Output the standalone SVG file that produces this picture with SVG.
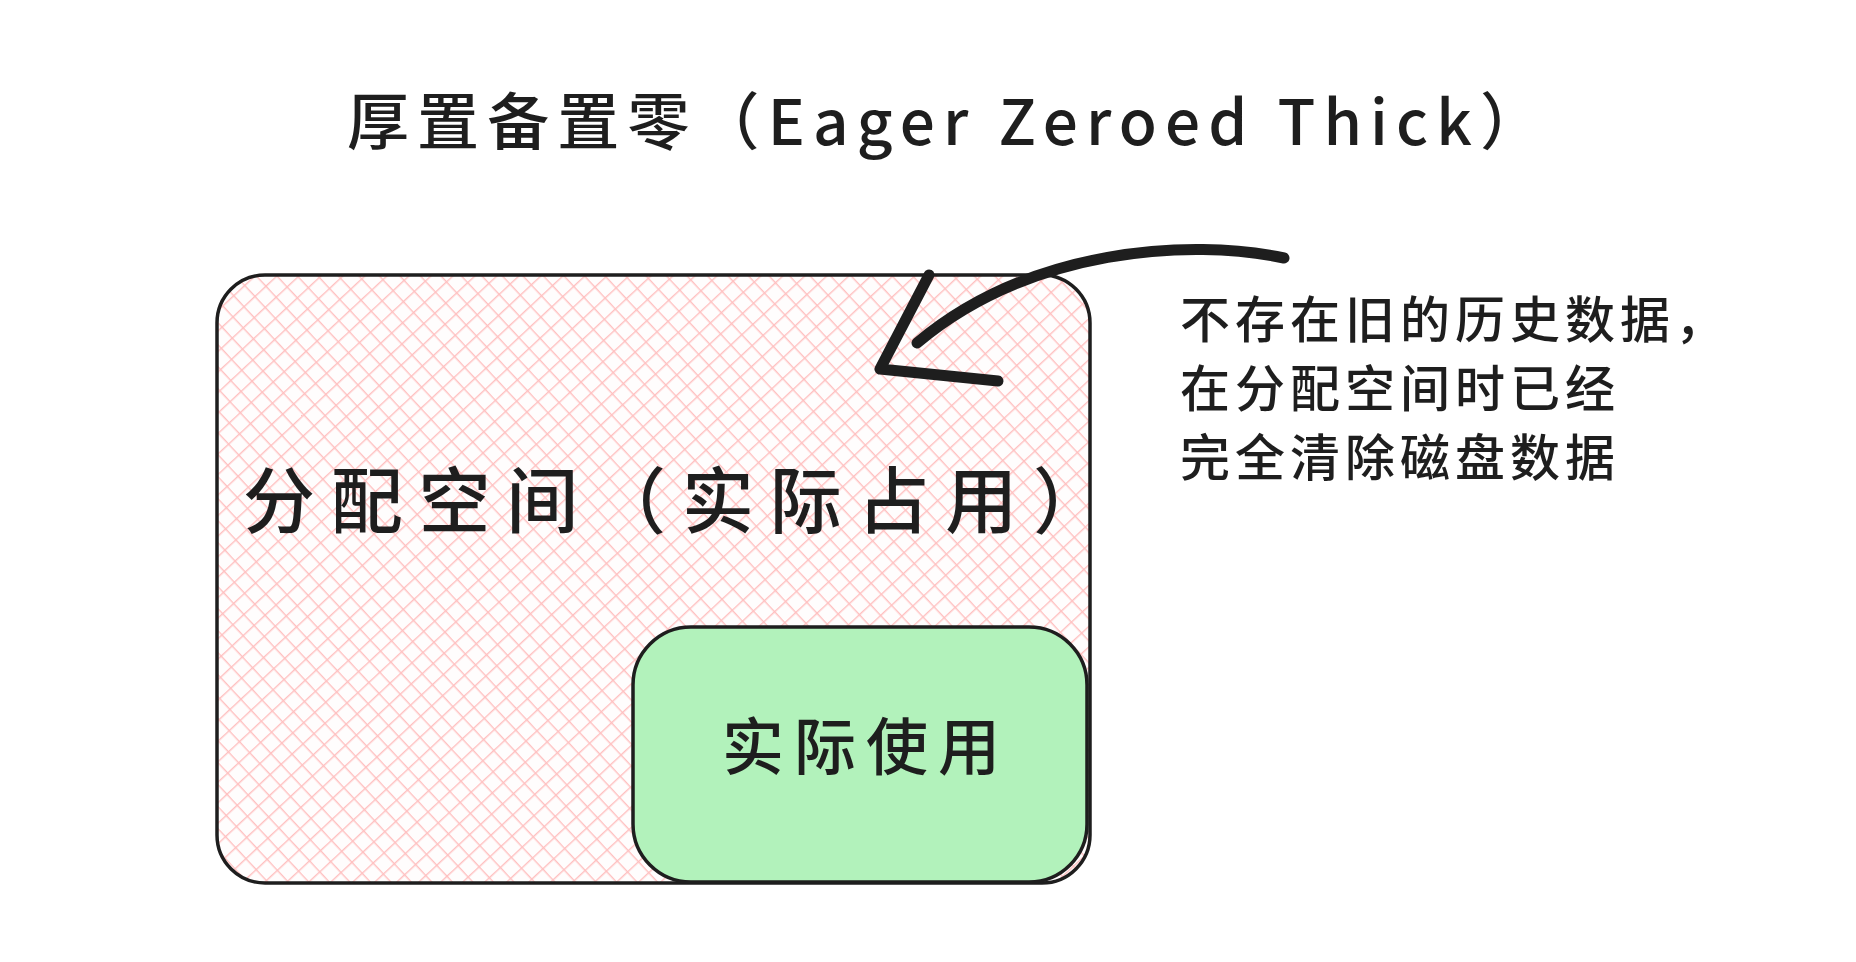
<svg xmlns="http://www.w3.org/2000/svg" width="1856" height="962" viewBox="0 0 1856 962">
  <style>
    .t { font-family: "Noto Sans CJK SC", "Noto Sans", sans-serif; fill: #1e1e1e; font-weight: 500; }
    .box { stroke: #1e1e1e; stroke-width: 3.5; stroke-linejoin: round; }
    .arrow { fill: none; stroke: #1e1e1e; stroke-width: 11; stroke-linecap: round; stroke-linejoin: round; }
  </style>
  <defs>
    <pattern id="hatch" patternUnits="userSpaceOnUse" width="15" height="15" patternTransform="rotate(47)">
      <rect width="15" height="15" fill="#fffdfd"/>
      <line x1="0" y1="0" x2="0" y2="15" stroke="#ffc0c0" stroke-width="2.8"/>
      <line x1="0" y1="0" x2="15" y2="0" stroke="#ffc0c0" stroke-width="2.8"/>
    </pattern>
  </defs>
  <rect width="1856" height="962" fill="#ffffff"/>

  <g id="title">
    <text class="t" x="347" y="145" font-size="62" textLength="1195" lengthAdjust="spacing">厚置备置零（Eager Zeroed Thick）</text>
  </g>

  <g id="allocated">
    <rect class="box" x="217" y="275" width="873" height="608" rx="48" ry="48" fill="url(#hatch)"/>
    <text class="t" x="243" y="527" font-size="72" textLength="862" lengthAdjust="spacing">分配空间（实际占用）</text>
  </g>

  <g id="used">
    <rect class="box" x="633" y="627" width="454" height="255" rx="58" ry="58" fill="#b2f2bb" stroke-width="4.5"/>
    <text class="t" x="722" y="770" font-size="62" textLength="278" lengthAdjust="spacing">实际使用</text>
  </g>

  <g id="note">
    <text class="t" x="1180" y="338" font-size="50" letter-spacing="5">不存在旧的历史数据，</text>
    <text class="t" x="1180" y="407" font-size="50" letter-spacing="5">在分配空间时已经</text>
    <text class="t" x="1180" y="476" font-size="50" letter-spacing="5">完全清除磁盘数据</text>
  </g>

  <g id="connectors">
    <path class="arrow" d="M1284 258 C1190 238 1030 248 917 343"/>
    <path class="arrow" d="M929 275 L880 369 L998 381"/>
  </g>
</svg>
